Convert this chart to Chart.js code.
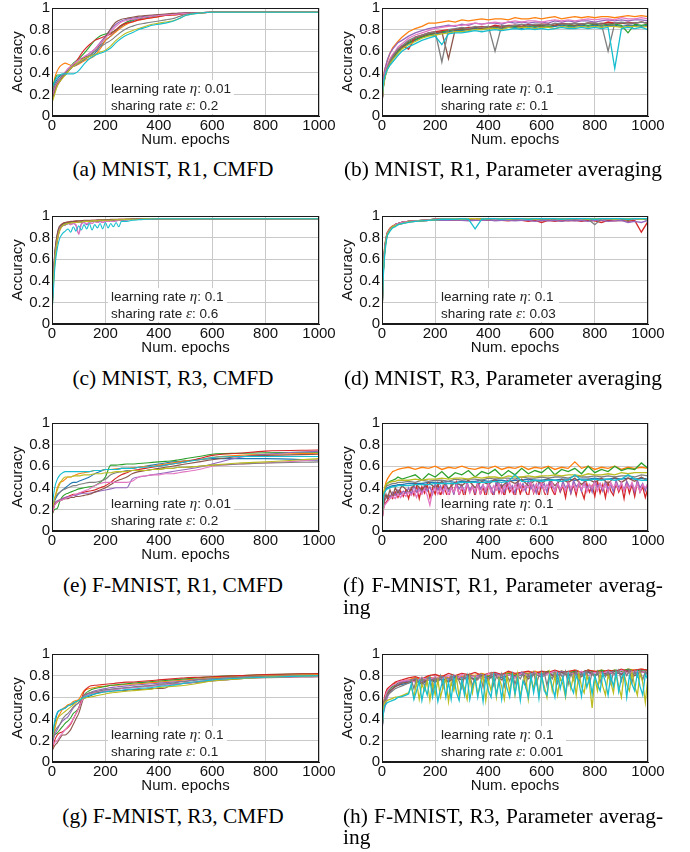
<!DOCTYPE html>
<html><head><meta charset="utf-8">
<script src="https://cdn.jsdelivr.net/npm/chart.js@4"></script>
<style>
body{margin:0;background:#fff;width:690px;height:852px;position:relative;overflow:hidden}
canvas{position:absolute}
.cap{position:absolute;width:320px;font-family:"Liberation Serif","Times New Roman",serif;font-size:21.4px;line-height:22px;color:#000;white-space:nowrap}
.c{text-align:center}
.j{text-align:justify;text-align-last:justify;white-space:normal}
.note{position:absolute;background:rgba(255,255,255,0.92);font-family:"Liberation Sans",Arial,sans-serif;font-size:13.5px;line-height:17px;color:#222;padding:0 3px;white-space:nowrap}
.note i{font-family:"Liberation Serif",serif;font-size:15px}
</style></head><body>
<script>
// ---------- x values (epochs) ----------
const smoothEpochs = [0,10,20,30,40,50,60,70,80,90,100,120,140,160,180,200,220,240,260,280,300,325,350,375,400,425,450,475,500,550,600,700,800,1000];
const fastEpochs = [0,5,10,15,20,25,30,40,50,60,70,80,90,100,110,120,130,140,150,160,170,180,190,200,210,220,230,240,250,260,280,300,325,350,400,500,700,1000];
const noisyEpochs = [0,5,10,15,20,30,40,50,60,75,100,125,150,175,200,225,250,275,300,325,350,375,400,425,450,475,500,525,550,575,600,625,650,675,700,725,750,775,800,825,850,875,900,925,950,975,1000];
const fineEpochs = [0,5,10,20,30,40,50,60,70,80,90,100,110,120,130,140,150,160,170,180,190,200,210,220,230,240,250,260,270,280,290,300,310,320,330,340,350,360,370,380,390,400,410,420,430,440,450,460,470,480,490,500,510,520,530,540,550,560,570,580,590,600,610,620,630,640,650,660,670,680,690,700,710,720,730,740,750,760,770,780,790,800,810,820,830,840,850,860,870,880,890,900,910,920,930,940,950,960,970,980,990,1000];
const xTicks = [0,200,400,600,800,1000];
const yTickLabels = ['0','0.2','0.4','0.6','0.8','1'];

// ---------- (a) MNIST, R1, CMFD ----------
const a_blue   = [.22,.30,.34,.37,.38,.40,.42,.44,.46,.47,.49,.52,.55,.58,.64,.70,.74,.79,.83,.86,.88,.90,.91,.92,.93,.935,.94,.945,.95,.955,.96,.96,.96,.96];
const a_orange = [.20,.35,.42,.46,.48,.49,.48,.47,.46,.47,.48,.51,.53,.56,.62,.70,.74,.78,.82,.85,.87,.89,.90,.91,.92,.93,.935,.94,.95,.955,.96,.96,.96,.96];
const a_green  = [.25,.33,.38,.38,.37,.38,.42,.46,.49,.51,.53,.58,.64,.70,.74,.76,.77,.80,.84,.87,.89,.905,.915,.925,.93,.935,.94,.945,.95,.955,.96,.96,.96,.96];
const a_red    = [.18,.25,.30,.33,.36,.40,.42,.44,.47,.50,.54,.61,.66,.70,.72,.74,.76,.80,.84,.86,.87,.89,.90,.91,.92,.93,.935,.94,.95,.955,.96,.96,.96,.96];
const a_purple = [.15,.24,.29,.33,.37,.40,.43,.45,.47,.48,.50,.54,.58,.62,.68,.74,.80,.85,.88,.895,.905,.915,.925,.93,.935,.94,.945,.95,.955,.958,.96,.96,.96,.96];
const a_brown  = [.14,.22,.28,.32,.36,.38,.41,.44,.47,.50,.52,.54,.56,.60,.66,.73,.81,.87,.895,.905,.915,.925,.93,.935,.94,.945,.95,.953,.956,.958,.96,.96,.96,.96];
const a_pink   = [.18,.27,.32,.35,.38,.41,.44,.46,.48,.50,.52,.55,.58,.62,.67,.72,.78,.83,.87,.885,.895,.905,.915,.925,.93,.935,.94,.945,.95,.955,.96,.96,.96,.96];
const a_gray   = [.20,.28,.32,.35,.38,.40,.42,.44,.46,.47,.49,.52,.56,.60,.64,.67,.70,.74,.78,.81,.83,.85,.86,.87,.88,.89,.90,.92,.94,.955,.96,.96,.96,.96];
const a_olive  = [.12,.20,.28,.32,.35,.38,.41,.44,.46,.48,.50,.53,.55,.57,.59,.61,.65,.70,.74,.77,.79,.81,.83,.85,.86,.87,.88,.90,.93,.952,.96,.96,.96,.96];
const a_cyan   = [.25,.32,.36,.38,.39,.39,.39,.39,.39,.40,.42,.48,.53,.56,.58,.60,.63,.68,.72,.75,.77,.80,.82,.84,.85,.86,.875,.90,.93,.952,.96,.96,.96,.96];

// ---------- (b) MNIST, R1, Parameter averaging ----------
const b_blue   = [.12,.27,.35,.4,.44,.49,.53,.56,.59,.63,.67,.7,.73,.75,.76,.77,.78,.79,.79,.8,.81,.8,.81,.82,.81,.82,.82,.81,.83,.82,.83,.82,.83,.84,.83,.83,.84,.83,.84,.83,.84,.84,.83,.84,.84,.83,.84];
const b_orange = [.12,.36,.43,.47,.51,.58,.63,.66,.69,.73,.78,.81,.83,.86,.86,.87,.88,.87,.89,.88,.89,.9,.89,.9,.9,.89,.91,.9,.9,.91,.9,.91,.92,.9,.91,.92,.91,.92,.91,.92,.92,.91,.92,.93,.92,.93,.92];
const b_green  = [.13,.28,.36,.41,.45,.5,.54,.57,.6,.64,.68,.71,.73,.75,.77,.78,.79,.8,.8,.81,.82,.81,.82,.83,.82,.83,.83,.82,.84,.83,.84,.83,.84,.85,.84,.84,.85,.84,.85,.84,.85,.85,.84,.77,.85,.84,.85];
const b_red    = [.12,.29,.37,.42,.46,.52,.56,.59,.62,.65,.62,.73,.75,.77,.78,.79,.8,.8,.81,.82,.82,.83,.82,.84,.83,.84,.84,.83,.85,.84,.85,.85,.84,.86,.85,.86,.85,.86,.86,.85,.87,.86,.86,.87,.86,.87,.86];
const b_purple = [.1,.33,.42,.47,.52,.58,.62,.65,.68,.7,.74,.77,.79,.81,.82,.83,.84,.83,.85,.84,.86,.85,.86,.86,.85,.87,.86,.87,.86,.87,.87,.86,.88,.87,.88,.87,.88,.88,.87,.88,.89,.88,.89,.88,.89,.89,.88];
const b_brown  = [.11,.27,.35,.4,.44,.5,.54,.58,.61,.64,.69,.72,.74,.76,.77,.78,.53,.8,.81,.8,.82,.81,.82,.83,.82,.83,.84,.83,.84,.84,.83,.85,.84,.85,.85,.84,.85,.86,.85,.86,.85,.86,.86,.85,.86,.87,.86];
const b_pink   = [.14,.3,.38,.43,.47,.53,.57,.6,.64,.67,.72,.75,.77,.79,.81,.82,.83,.84,.84,.85,.86,.85,.86,.87,.86,.87,.88,.87,.88,.88,.87,.88,.89,.88,.89,.88,.89,.9,.89,.9,.9,.89,.91,.9,.9,.91,.9];
const b_gray   = [.13,.28,.36,.41,.45,.51,.55,.59,.62,.65,.7,.73,.75,.77,.78,.5,.8,.81,.82,.81,.83,.82,.83,.6,.84,.83,.84,.85,.84,.85,.85,.84,.86,.85,.85,.86,.85,.86,.86,.85,.6,.86,.87,.86,.86,.87,.86];
const b_olive  = [.14,.26,.34,.39,.43,.48,.52,.55,.58,.62,.66,.69,.72,.74,.75,.76,.77,.78,.78,.79,.8,.8,.81,.81,.8,.82,.81,.82,.82,.81,.82,.82,.81,.83,.82,.82,.83,.82,.83,.82,.83,.83,.82,.83,.83,.82,.83];
const b_cyan   = [.15,.3,.36,.4,.43,.47,.5,.53,.56,.6,.64,.67,.7,.72,.74,.66,.76,.77,.77,.78,.79,.78,.79,.8,.79,.8,.81,.8,.81,.8,.81,.8,.81,.82,.81,.81,.82,.81,.82,.81,.82,.44,.81,.82,.81,.82,.8];

// ---------- (c) MNIST, R3, CMFD ----------
const c_blue   = [.12,.4,.6,.73,.8,.86,.89,.92,.93,.935,.94,.94,.945,.945,.95,.95,.95,.95,.955,.955,.955,.955,.96,.96,.96,.96,.96,.96,.965,.965,.965,.97,.97,.97,.975,.975,.975,.975];
const c_orange = [.1,.35,.55,.68,.76,.83,.87,.91,.92,.93,.935,.94,.94,.945,.945,.95,.95,.95,.95,.955,.955,.955,.955,.96,.96,.96,.96,.96,.965,.965,.965,.97,.97,.97,.975,.975,.975,.975];
const c_green  = [.15,.42,.62,.74,.82,.87,.9,.92,.93,.935,.94,.945,.945,.95,.95,.95,.95,.955,.955,.955,.955,.96,.96,.96,.96,.96,.965,.965,.965,.965,.97,.97,.97,.975,.975,.975,.975,.975];
const c_red    = [.12,.4,.6,.72,.8,.86,.9,.93,.94,.945,.945,.95,.95,.95,.955,.955,.955,.955,.96,.96,.96,.96,.96,.965,.965,.965,.965,.965,.97,.97,.97,.97,.975,.975,.975,.975,.975,.975];
const c_purple = [.12,.45,.65,.76,.83,.88,.9,.91,.92,.93,.92,.93,.91,.84,.93,.94,.92,.94,.93,.95,.94,.95,.94,.95,.95,.955,.95,.955,.96,.955,.965,.97,.97,.97,.975,.975,.975,.975];
const c_brown  = [.14,.42,.64,.76,.84,.89,.91,.93,.94,.945,.95,.95,.955,.955,.955,.96,.96,.96,.96,.96,.965,.965,.965,.965,.965,.97,.97,.97,.97,.97,.97,.975,.975,.975,.975,.975,.975,.975];
const c_pink   = [.12,.38,.58,.7,.78,.84,.88,.91,.92,.93,.92,.93,.92,.83,.92,.94,.93,.94,.93,.95,.94,.95,.94,.95,.95,.955,.95,.955,.96,.96,.965,.97,.97,.97,.975,.975,.975,.975];
const c_gray   = [.12,.38,.58,.7,.78,.84,.88,.91,.92,.93,.935,.94,.94,.945,.945,.95,.95,.95,.955,.955,.955,.955,.96,.96,.96,.96,.96,.965,.965,.965,.97,.97,.97,.975,.975,.975,.975,.975];
const c_olive  = [.1,.36,.56,.69,.78,.84,.88,.91,.925,.93,.935,.94,.94,.945,.945,.95,.95,.95,.955,.955,.955,.96,.96,.96,.96,.96,.965,.965,.965,.965,.97,.97,.97,.975,.975,.975,.975,.975];
const c_cyan   = [.1,.3,.5,.62,.7,.76,.8,.84,.86,.88,.85,.9,.86,.91,.87,.92,.88,.93,.87,.92,.89,.93,.88,.94,.89,.93,.9,.94,.9,.95,.95,.96,.965,.97,.975,.975,.975,.975];

// ---------- (d) MNIST, R3, Parameter averaging ----------
const d_blue   = [.1,.5,.68,.78,.84,.88,.9,.92,.93,.94,.95,.955,.96,.965,.97,.97,.975,.97,.975,.975,.97,.975,.975,.975,.97,.975,.975,.975,.97,.975,.975,.975,.975,.97,.975,.975,.975,.97,.975,.975,.975,.975,.97,.975,.975,.975,.975];
const d_orange = [.12,.55,.72,.8,.85,.89,.91,.92,.93,.94,.95,.955,.96,.965,.97,.975,.97,.975,.975,.97,.975,.975,.975,.975,.97,.975,.975,.97,.975,.975,.975,.97,.975,.975,.975,.975,.97,.975,.975,.965,.975,.975,.975,.975,.97,.975,.975];
const d_green  = [.1,.52,.7,.79,.84,.88,.9,.92,.93,.94,.95,.955,.96,.965,.97,.97,.975,.975,.97,.975,.975,.975,.97,.975,.975,.975,.975,.97,.975,.975,.96,.975,.975,.95,.975,.975,.96,.975,.975,.975,.96,.975,.975,.96,.975,.975,.96];
const d_red    = [.08,.5,.68,.78,.84,.88,.9,.92,.93,.94,.95,.955,.955,.96,.96,.965,.96,.965,.96,.965,.96,.965,.96,.965,.96,.955,.965,.96,.95,.96,.94,.96,.95,.96,.955,.96,.95,.96,.955,.94,.96,.955,.96,.95,.96,.85,.95];
const d_purple = [.1,.53,.7,.79,.84,.88,.9,.92,.93,.94,.95,.95,.955,.96,.96,.96,.96,.965,.96,.955,.96,.96,.965,.955,.96,.96,.955,.96,.96,.95,.96,.955,.96,.95,.96,.955,.96,.95,.96,.96,.95,.955,.96,.94,.95,.94,.96];
const d_brown  = [.1,.5,.69,.79,.84,.88,.9,.92,.93,.94,.95,.955,.96,.965,.97,.97,.97,.975,.97,.975,.97,.975,.975,.97,.975,.975,.97,.975,.975,.97,.975,.975,.97,.975,.975,.97,.975,.975,.97,.975,.975,.97,.975,.975,.97,.975,.975];
const d_pink   = [.1,.52,.7,.79,.84,.88,.9,.92,.93,.94,.95,.955,.96,.965,.97,.97,.975,.97,.975,.975,.97,.975,.975,.97,.975,.975,.975,.97,.975,.975,.97,.975,.975,.965,.975,.975,.97,.975,.975,.97,.975,.965,.975,.975,.97,.975,.975];
const d_gray   = [.1,.5,.68,.78,.83,.87,.9,.91,.92,.93,.945,.95,.955,.96,.965,.97,.97,.97,.975,.97,.975,.975,.97,.975,.975,.975,.97,.975,.975,.975,.97,.975,.975,.975,.97,.975,.975,.97,.92,.975,.975,.97,.975,.975,.975,.97,.975];
const d_olive  = [.1,.48,.66,.77,.83,.87,.9,.91,.92,.93,.945,.95,.955,.96,.965,.97,.97,.975,.97,.975,.975,.97,.975,.975,.975,.97,.975,.975,.975,.97,.975,.975,.975,.97,.975,.975,.975,.97,.975,.975,.975,.97,.975,.975,.975,.97,.975];
const d_cyan   = [.1,.45,.64,.75,.82,.86,.89,.9,.92,.93,.94,.95,.955,.96,.965,.97,.97,.97,.975,.97,.88,.97,.975,.975,.97,.975,.975,.975,.97,.975,.975,.975,.975,.97,.975,.975,.975,.975,.97,.975,.975,.975,.975,.97,.975,.975,.975];

// ---------- (e) F-MNIST, R1, CMFD ----------
const e_blue   = [.2,.28,.33,.36,.38,.4,.42,.44,.45,.45,.46,.48,.5,.53,.55,.57,.57,.57,.58,.58,.58,.59,.6,.61,.62,.63,.64,.645,.65,.66,.67,.67,.67,.655];
const e_orange = [.18,.3,.4,.45,.46,.48,.5,.5,.51,.52,.53,.54,.55,.56,.56,.57,.57,.575,.58,.58,.585,.59,.6,.6,.61,.62,.63,.64,.65,.66,.68,.7,.71,.72];
const e_green  = [.15,.2,.21,.28,.32,.34,.35,.36,.37,.38,.39,.4,.41,.42,.45,.5,.61,.61,.615,.62,.62,.625,.63,.635,.64,.645,.65,.66,.67,.69,.71,.72,.725,.73];
const e_red    = [.15,.24,.27,.29,.3,.31,.32,.33,.34,.34,.35,.36,.37,.38,.4,.42,.45,.49,.52,.54,.56,.57,.58,.59,.6,.61,.62,.63,.64,.67,.7,.72,.74,.75];
const e_purple = [.2,.26,.28,.29,.3,.31,.32,.32,.33,.33,.34,.35,.35,.36,.37,.38,.39,.4,.4,.4,.48,.5,.51,.52,.53,.54,.55,.56,.57,.59,.62,.68,.71,.74];
const e_brown  = [.18,.25,.27,.28,.29,.3,.3,.31,.31,.32,.32,.33,.34,.36,.38,.4,.43,.46,.48,.5,.53,.55,.56,.57,.58,.59,.6,.61,.62,.64,.66,.69,.7,.71];
const e_pink   = [.15,.24,.27,.28,.29,.3,.31,.32,.33,.34,.35,.37,.39,.42,.44,.45,.45,.45,.45,.45,.46,.5,.51,.52,.52,.53,.53,.54,.55,.57,.6,.62,.63,.66];
const e_gray   = [.2,.3,.34,.36,.38,.39,.4,.41,.42,.42,.43,.44,.45,.45,.46,.48,.52,.54,.55,.56,.56,.56,.56,.57,.57,.58,.58,.59,.59,.6,.61,.62,.63,.64];
const e_olive  = [.2,.3,.38,.44,.48,.5,.5,.5,.51,.51,.51,.52,.52,.53,.53,.54,.54,.55,.55,.55,.56,.56,.56,.57,.57,.58,.58,.59,.59,.6,.61,.63,.64,.67];
const e_cyan   = [.22,.4,.48,.52,.54,.55,.55,.55,.55,.55,.55,.55,.55,.56,.56,.57,.57,.57,.58,.58,.58,.59,.59,.6,.6,.61,.62,.63,.64,.66,.68,.69,.69,.69];

// ---------- (f) F-MNIST, R1, Parameter averaging ----------
const f_blue   = [.12,.3,.36,.39,.4,.41,.42,.42,.43,.43,.44,.44,.44,.45,.45,.45,.46,.45,.46,.46,.46,.47,.46,.47,.47,.46,.47,.47,.48,.47,.47,.48,.47,.48,.48,.47,.48,.48,.49,.48,.48,.49,.48,.49,.48,.49,.48];
const f_orange = [.12,.3,.4,.45,.48,.52,.55,.56,.57,.58,.59,.57,.59,.58,.6,.57,.59,.58,.6,.58,.57,.59,.58,.6,.57,.59,.58,.6,.57,.59,.58,.6,.57,.59,.58,.64,.58,.6,.57,.59,.58,.6,.57,.59,.58,.59,.58];
const f_green  = [.12,.3,.38,.42,.44,.46,.47,.48,.5,.48,.5,.52,.47,.53,.5,.55,.49,.54,.52,.56,.5,.55,.53,.57,.51,.56,.52,.58,.53,.56,.54,.59,.52,.57,.55,.58,.53,.6,.54,.57,.55,.6,.56,.58,.57,.63,.58];
// red, purple, pink read on the fine epoch grid
const f_red    = [.1,.2,.25,.28,.33,.3,.36,.31,.37,.32,.38,.3,.4,.33,.42,.3,.41,.35,.43,.31,.4,.34,.44,.32,.42,.36,.29,.43,.35,.45,.33,.4,.3,.44,.36,.42,.32,.45,.34,.41,.3,.44,.37,.32,.45,.35,.42,.31,.44,.36,.4,.3,.45,.34,.42,.37,.31,.46,.35,.43,.32,.44,.36,.3,.45,.38,.33,.44,.36,.42,.31,.46,.35,.43,.33,.45,.37,.3,.44,.36,.42,.32,.46,.35,.43,.31,.45,.37,.33,.44,.36,.42,.3,.45,.35,.43,.32,.46,.36,.41,.31,.4];
const f_purple = [.1,.22,.28,.33,.31,.36,.33,.38,.34,.37,.35,.4,.34,.42,.36,.4,.35,.43,.37,.41,.34,.44,.38,.42,.35,.45,.37,.41,.34,.44,.39,.43,.36,.45,.38,.42,.35,.46,.39,.43,.36,.45,.4,.34,.46,.38,.43,.36,.47,.39,.42,.35,.46,.4,.44,.37,.47,.39,.43,.35,.46,.4,.44,.36,.47,.41,.38,.45,.37,.46,.4,.43,.35,.47,.41,.44,.37,.46,.4,.43,.36,.47,.41,.44,.37,.46,.39,.43,.36,.47,.4,.44,.38,.46,.41,.43,.36,.47,.4,.44,.37,.45];
const f_brown  = [.1,.22,.3,.34,.3,.38,.32,.4,.35,.42,.36,.44,.38,.45,.4,.46,.39,.45,.42,.47,.4,.46,.43,.48,.41,.47,.44,.48,.42,.47,.44,.49,.42,.48,.45,.49,.43,.48,.45,.49,.44,.5,.45,.49,.46,.5,.46];
const f_pink   = [.1,.2,.24,.27,.3,.32,.3,.34,.31,.35,.32,.36,.33,.37,.31,.38,.34,.39,.33,.24,.37,.4,.34,.39,.35,.41,.33,.4,.36,.42,.34,.4,.37,.43,.35,.41,.37,.43,.34,.42,.38,.44,.36,.42,.38,.44,.35,.42,.39,.45,.36,.43,.39,.44,.37,.42,.4,.45,.36,.43,.39,.45,.37,.43,.4,.45,.36,.44,.39,.42,.37,.45,.4,.43,.37,.45,.39,.44,.36,.43,.4,.45,.37,.44,.39,.43,.36,.45,.4,.44,.38,.45,.37,.43,.39,.45,.38,.44,.36,.43,.4,.44];
const f_gray   = [.1,.3,.38,.41,.42,.43,.44,.44,.45,.45,.46,.45,.47,.46,.47,.47,.46,.48,.47,.48,.48,.47,.49,.48,.49,.49,.48,.5,.49,.49,.5,.49,.5,.5,.49,.51,.5,.5,.51,.5,.51,.5,.51,.51,.5,.52,.51];
const f_olive  = [.1,.32,.4,.43,.44,.45,.46,.46,.47,.47,.47,.48,.47,.48,.48,.49,.48,.49,.49,.48,.5,.49,.5,.5,.49,.51,.5,.5,.51,.5,.51,.51,.52,.51,.52,.52,.51,.53,.52,.52,.53,.52,.54,.53,.54,.54,.54];
const f_cyan   = [.12,.32,.36,.38,.39,.4,.41,.41,.42,.42,.42,.43,.43,.43,.44,.44,.44,.44,.45,.45,.45,.45,.45,.46,.45,.46,.52,.46,.46,.47,.46,.47,.47,.46,.47,.52,.47,.47,.48,.47,.48,.47,.48,.52,.48,.47,.47];

// ---------- (g) F-MNIST, R3, CMFD ----------
const g_blue   = [.2,.35,.45,.48,.49,.5,.52,.53,.54,.56,.57,.59,.61,.63,.645,.66,.67,.675,.68,.685,.69,.695,.7,.705,.71,.715,.72,.725,.73,.745,.76,.775,.785,.8];
const g_orange = [.15,.3,.4,.45,.49,.51,.53,.54,.56,.57,.58,.66,.68,.69,.7,.7,.71,.71,.715,.72,.72,.725,.73,.735,.74,.745,.75,.755,.76,.77,.78,.79,.8,.81];
const g_green  = [.2,.25,.27,.3,.33,.36,.38,.41,.45,.47,.5,.62,.66,.68,.69,.7,.71,.715,.72,.725,.73,.735,.74,.745,.75,.755,.76,.765,.77,.78,.79,.8,.81,.82];
const g_red    = [.1,.2,.25,.27,.28,.3,.32,.35,.4,.45,.5,.65,.7,.71,.715,.72,.725,.73,.735,.74,.74,.745,.75,.755,.76,.765,.77,.775,.78,.785,.79,.8,.81,.82];
const g_purple = [.15,.25,.3,.35,.38,.4,.42,.46,.5,.53,.55,.61,.64,.66,.67,.68,.69,.695,.7,.705,.71,.715,.72,.725,.73,.735,.74,.745,.75,.765,.77,.785,.79,.8];
const g_brown  = [.1,.15,.18,.22,.25,.25,.27,.3,.35,.4,.45,.6,.63,.64,.645,.65,.655,.66,.66,.665,.67,.67,.675,.68,.68,.685,.72,.725,.73,.74,.75,.77,.78,.79];
const g_pink   = [.15,.18,.2,.24,.27,.3,.33,.36,.4,.45,.5,.6,.63,.645,.655,.66,.67,.675,.68,.685,.69,.695,.7,.705,.71,.715,.72,.725,.73,.745,.76,.775,.785,.79];
const g_gray   = [.18,.28,.32,.35,.4,.43,.45,.48,.51,.53,.55,.62,.64,.65,.66,.67,.675,.68,.685,.69,.695,.7,.705,.71,.72,.725,.73,.74,.745,.76,.77,.785,.795,.8];
const g_olive  = [.2,.32,.4,.43,.45,.47,.49,.51,.53,.55,.57,.59,.6,.61,.62,.63,.64,.645,.65,.655,.66,.665,.67,.675,.69,.695,.7,.705,.71,.73,.75,.77,.785,.8];
const g_cyan   = [.2,.38,.46,.48,.49,.5,.52,.53,.55,.56,.57,.6,.62,.63,.64,.65,.655,.66,.665,.67,.675,.68,.685,.69,.7,.705,.71,.72,.73,.745,.76,.775,.785,.8];

// ---------- (h) F-MNIST, R3, Parameter averaging ----------
const h_blue   = [.3,.48,.56,.6,.63,.66,.68,.7,.71,.72,.73,.75,.72,.76,.74,.77,.75,.78,.76,.79,.77,.8,.77,.8,.78,.81,.78,.81,.79,.82,.79,.82,.8,.83,.8,.82,.81,.83,.8,.83,.81,.84,.81,.84,.82,.84,.82];
const h_orange = [.3,.52,.6,.64,.67,.7,.72,.73,.74,.75,.76,.78,.76,.79,.77,.8,.78,.8,.79,.81,.8,.82,.8,.82,.81,.83,.81,.83,.82,.84,.82,.84,.83,.84,.83,.85,.83,.85,.84,.85,.84,.85,.84,.86,.85,.86,.85];
const h_green  = [.3,.5,.58,.62,.65,.68,.7,.71,.73,.74,.75,.77,.75,.78,.76,.79,.77,.8,.78,.8,.79,.81,.79,.82,.8,.82,.8,.83,.81,.83,.81,.84,.82,.84,.82,.84,.83,.85,.83,.85,.83,.85,.84,.86,.84,.85,.85];
const h_red    = [.3,.5,.6,.65,.68,.7,.72,.74,.75,.76,.78,.79,.77,.8,.81,.79,.82,.8,.82,.81,.83,.8,.82,.83,.81,.84,.82,.83,.84,.82,.84,.83,.85,.83,.84,.85,.83,.85,.84,.83,.85,.84,.86,.84,.85,.86,.85];
const h_purple = [.28,.45,.5,.55,.6,.65,.68,.7,.72,.74,.75,.77,.74,.78,.76,.79,.77,.8,.78,.8,.79,.81,.78,.82,.8,.81,.79,.83,.8,.82,.81,.83,.8,.84,.81,.83,.82,.84,.81,.83,.82,.84,.82,.85,.83,.84,.83];
const h_brown  = [.3,.47,.55,.6,.63,.66,.68,.7,.71,.73,.74,.76,.73,.77,.75,.78,.74,.79,.76,.8,.75,.8,.77,.81,.76,.81,.78,.82,.77,.82,.79,.83,.78,.83,.8,.83,.79,.84,.8,.84,.8,.84,.81,.85,.8,.84,.81];
const h_pink   = [.28,.48,.58,.63,.66,.69,.71,.72,.74,.75,.76,.74,.78,.76,.79,.77,.8,.75,.81,.78,.8,.77,.82,.79,.8,.81,.78,.82,.8,.83,.79,.82,.84,.8,.83,.81,.84,.8,.83,.82,.84,.81,.85,.82,.84,.83,.84];
// gray, olive, cyan read on the fine epoch grid
const h_gray   = [.3,.5,.58,.62,.64,.66,.68,.69,.7,.71,.72,.73,.76,.68,.77,.72,.78,.7,.76,.79,.66,.78,.73,.8,.69,.78,.74,.8,.7,.79,.75,.68,.8,.74,.81,.7,.79,.76,.81,.69,.8,.74,.82,.71,.79,.76,.82,.7,.8,.75,.82,.72,.8,.77,.82,.7,.81,.76,.83,.72,.8,.78,.83,.71,.81,.77,.83,.73,.82,.78,.84,.72,.82,.76,.84,.74,.82,.79,.84,.72,.83,.78,.84,.74,.83,.79,.84,.73,.83,.8,.85,.75,.84,.8,.85,.74,.84,.79,.85,.76,.84,.8];
const h_olive  = [.3,.48,.55,.57,.58,.59,.6,.6,.61,.62,.63,.64,.7,.6,.74,.58,.72,.66,.75,.57,.73,.62,.76,.6,.7,.77,.56,.74,.66,.78,.6,.75,.68,.58,.78,.64,.79,.62,.72,.8,.57,.76,.66,.8,.6,.78,.7,.58,.8,.65,.79,.62,.81,.6,.74,.8,.58,.77,.68,.81,.62,.79,.7,.6,.82,.66,.8,.62,.78,.72,.6,.81,.68,.8,.62,.82,.7,.64,.8,.72,.5,.78,.66,.82,.7,.62,.8,.74,.64,.82,.7,.6,.81,.72,.66,.83,.7,.62,.82,.74,.55,.8];
const h_cyan   = [.3,.45,.52,.55,.56,.57,.58,.6,.6,.61,.62,.63,.72,.58,.66,.75,.57,.7,.62,.76,.6,.73,.56,.68,.77,.6,.74,.58,.78,.64,.57,.76,.62,.79,.58,.7,.77,.6,.74,.56,.78,.66,.6,.8,.62,.75,.58,.79,.68,.6,.8,.63,.77,.57,.75,.7,.6,.8,.64,.78,.59,.81,.66,.62,.8,.7,.6,.81,.68,.79,.62,.82,.7,.64,.8,.74,.61,.82,.69,.78,.63,.8,.72,.66,.82,.74,.62,.8,.7,.83,.65,.78,.82,.6,.8,.72,.66,.83,.7,.62,.81,.76];

// ---------- styles / layout ----------
const COLORS = ['#1f77b4','#ff7f0e','#2ca02c','#d62728','#9467bd','#8c564b','#e377c2','#7f7f7f','#bcbd22','#17becf'];
const COL_LEFT = [0, 330];
const PLOT_W = [267, 266];
const ROW_TOP = [8, 216, 423, 654];
const PLOT_H = 108, Y_AXIS_W = 52, X_AXIS_H = 33, PAD_TOP = 15, PAD_RIGHT = 20;
const CAP_LEFT = [13, 343];
const CAP_TOP = [158, 367, 574, 805];
const CAP_LINE2 = [0, 0, 596, 826];

const panels = [
  {col:0,row:0,x:smoothEpochs,mono:true, s:[a_blue,a_orange,a_green,a_red,a_purple,a_brown,a_pink,a_gray,a_olive,a_cyan], lr:'0.01', sr:'0.2', cap:['(a) MNIST, R1, CMFD']},
  {col:1,row:0,x:noisyEpochs, mono:false,s:[b_blue,b_orange,b_green,b_red,b_purple,b_brown,b_pink,b_gray,b_olive,b_cyan], lr:'0.1', sr:'0.1', cap:['(b) MNIST, R1, Parameter averaging']},
  {col:0,row:1,x:fastEpochs,  mono:true, s:[c_blue,c_orange,c_green,c_red,c_purple,c_brown,c_pink,c_gray,c_olive,c_cyan], lr:'0.1', sr:'0.6', cap:['(c) MNIST, R3, CMFD']},
  {col:1,row:1,x:noisyEpochs, mono:false,s:[d_blue,d_orange,d_green,d_red,d_purple,d_brown,d_pink,d_gray,d_olive,d_cyan], lr:'0.1', sr:'0.03', cap:['(d) MNIST, R3, Parameter averaging']},
  {col:0,row:2,x:smoothEpochs,mono:true, s:[e_blue,e_orange,e_green,e_red,e_purple,e_brown,e_pink,e_gray,e_olive,e_cyan], lr:'0.01', sr:'0.2', cap:['(e) F-MNIST, R1, CMFD']},
  {col:1,row:2,x:noisyEpochs, mono:false,s:[f_blue,f_orange,f_green,f_red,f_purple,f_brown,f_pink,f_gray,f_olive,f_cyan], fine:[3,4,6], lr:'0.1', sr:'0.1', cap:['(f) F-MNIST, R1, Parameter averag-','ing']},
  {col:0,row:3,x:smoothEpochs,mono:true, s:[g_blue,g_orange,g_green,g_red,g_purple,g_brown,g_pink,g_gray,g_olive,g_cyan], lr:'0.1', sr:'0.1', cap:['(g) F-MNIST, R3, CMFD']},
  {col:1,row:3,x:noisyEpochs, mono:false,s:[h_blue,h_orange,h_green,h_red,h_purple,h_brown,h_pink,h_gray,h_olive,h_cyan], fine:[7,8,9], lr:'0.1', sr:'0.001', cap:['(h) F-MNIST, R3, Parameter averag-','ing']}
];

const framePlugin = {
  id:'frame',
  afterDraw(chart){
    const {ctx, chartArea:a} = chart;
    ctx.save();
    ctx.strokeStyle = '#1a1a1a'; ctx.lineWidth = 1;
    ctx.strokeRect(Math.round(a.left)+0.5, Math.round(a.top)+0.5, Math.round(a.right-a.left)-1, Math.round(a.bottom-a.top)-1);
    ctx.restore();
  }
};

const tickFont = {family:'"Liberation Sans", Arial, sans-serif', size:15};

panels.forEach((p) => {
  const cv = document.createElement('canvas');
  const w = Y_AXIS_W + PLOT_W[p.col] + PAD_RIGHT;
  const h = PAD_TOP + PLOT_H + X_AXIS_H;
  cv.width = w; cv.height = h;
  cv.style.left = COL_LEFT[p.col] + 'px';
  cv.style.top = (ROW_TOP[p.row] - PAD_TOP) + 'px';
  cv.style.width = w + 'px'; cv.style.height = h + 'px';
  document.body.appendChild(cv);

  const datasets = p.s.map((vals, i) => {
    const xs = (p.fine && p.fine.includes(i)) ? fineEpochs : p.x;
    return {
      data: xs.map((e, k) => ({x: e, y: vals[k]})),
      borderColor: COLORS[i],
      borderWidth: p.mono ? 1.1 : 1.3,
      pointRadius: 0,
      fill: false,
      tension: p.mono ? 0.3 : 0,
      cubicInterpolationMode: p.mono ? 'monotone' : 'default',
      order: 9 - i
    };
  });

  new Chart(cv, {
    type:'line',
    data:{datasets},
    options:{
      responsive:false, animation:false, devicePixelRatio:1,
      layout:{padding:{top:PAD_TOP, right:PAD_RIGHT, left:0, bottom:0}},
      plugins:{legend:{display:false}, tooltip:{enabled:false}, title:{display:false}},
      scales:{
        x:{type:'linear', min:0, max:1000,
           afterBuildTicks: s => { s.ticks = xTicks.map(v => ({value:v})); },
           afterFit: s => { s.height = X_AXIS_H; },
           grid:{color:'#c9c9c9', lineWidth:1, drawTicks:false},
           border:{display:true, color:'#1a1a1a', width:1},
           ticks:{font:tickFont, color:'#111', padding:1, maxRotation:0, autoSkip:false, callback: v => String(v)},
           title:{display:true, text:'Num. epochs', font:tickFont, color:'#111', padding:{top:0,bottom:0}}
        },
        y:{type:'linear', min:0, max:1,
           afterBuildTicks: s => { s.ticks = yTickLabels.map((t, k) => ({value:k*0.2})); },
           afterFit: s => { s.width = Y_AXIS_W; },
           grid:{color:'#c9c9c9', lineWidth:1, drawTicks:false},
           border:{display:true, color:'#1a1a1a', width:1},
           ticks:{font:tickFont, color:'#111', padding:2, autoSkip:false,
                  callback: v => yTickLabels[Math.round(v*5)]},
           title:{display:true, text:'Accuracy', font:tickFont, color:'#111', padding:{top:9,bottom:0}}
        }
      }
    },
    plugins:[framePlugin]
  });

  // annotation box
  const plotLeft = COL_LEFT[p.col] + Y_AXIS_W;
  const plotBottom = ROW_TOP[p.row] + PLOT_H;
  const n = document.createElement('div');
  n.className = 'note';
  n.style.left = (plotLeft + 56) + 'px';
  n.style.top = (plotBottom - 36) + 'px';
  n.innerHTML = 'learning rate <i>η</i>: ' + p.lr + '<br>sharing rate <i>ε</i>: ' + p.sr;
  document.body.appendChild(n);

  // caption
  const c1 = document.createElement('div');
  c1.className = 'cap ' + (p.cap.length > 1 ? 'j' : 'c');
  c1.style.left = CAP_LEFT[p.col] + 'px';
  c1.style.top = CAP_TOP[p.row] + 'px';
  c1.textContent = p.cap[0];
  document.body.appendChild(c1);
  if (p.cap.length > 1) {
    const c2 = document.createElement('div');
    c2.className = 'cap';
    c2.style.left = CAP_LEFT[p.col] + 'px';
    c2.style.top = CAP_LINE2[p.row] + 'px';
    c2.textContent = p.cap[1];
    document.body.appendChild(c2);
  }
});
</script>
</body></html>
